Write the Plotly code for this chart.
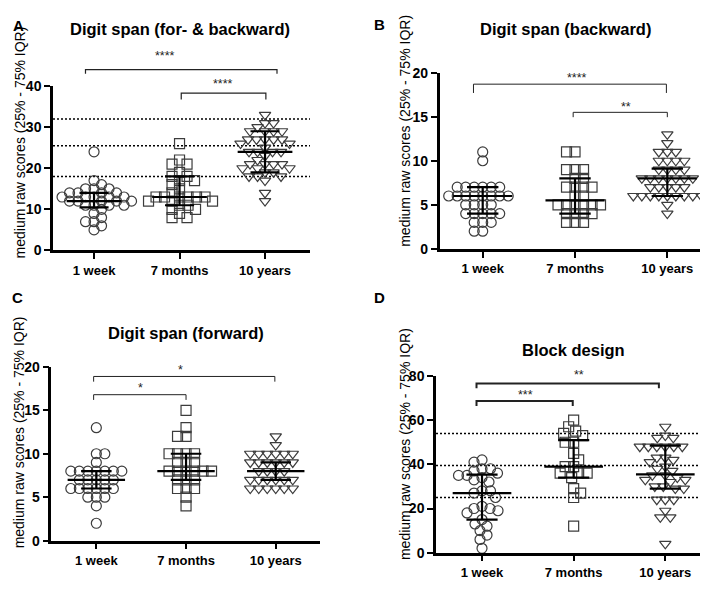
import plotly.graph_objects as go

W, H = 708, 589
categories = ["1 week", "7 months", "10 years"]

# ---------------- data ----------------
A_week = [24, 17, 16, 15, 15, 15, 14, 14, 14, 14, 13, 13, 13, 13, 13, 12, 12, 12, 12, 12,
          11, 11, 11, 11, 10, 9, 8, 7, 7, 6, 5]
A_month = [26, 22, 21, 21, 19, 18, 18, 17, 17, 16, 15, 14, 13, 13, 13, 13, 13, 13, 12, 12,
           12, 11, 11, 10, 10, 9, 8, 8]
A_year = [33, 31, 31, 30, 29, 29, 29, 29, 27, 27, 27, 27, 27, 26, 26, 25, 24, 24, 24, 24,
          23, 22, 21, 21, 21, 21, 20, 20, 20, 19, 19, 18, 18, 18, 17, 14, 12]
A_median = [12, 13, 24]
A_q1 = [10.5, 11, 19]
A_q3 = [14, 18, 29]
A_reflines = [18, 25.5, 32]

B_week = [11, 10, 7, 7, 7, 7, 7, 7, 6, 6, 6, 6, 6, 6, 6, 6, 5, 5, 5, 5, 4, 4, 4, 4, 4,
          3, 3, 3, 2, 2]
B_month = [11, 11, 9, 9, 9, 8, 8, 7, 7, 7, 7, 6, 6, 5, 5, 5, 5, 5, 5, 4, 4, 4, 4, 3, 3, 3]
B_year = [13, 12, 11, 11, 11, 10, 10, 10, 10, 9, 9, 9, 9, 8, 8, 8, 8, 8, 8, 8, 7, 7, 7, 7,
          7, 6, 6, 6, 6, 6, 6, 6, 6, 6, 6, 5, 4]
B_median = [6, 5.5, 8]
B_q1 = [4, 4, 6]
B_q3 = [7, 8, 9.1]

C_week = [13, 10, 10, 9, 8, 8, 8, 8, 8, 8, 8, 7, 7, 7, 7, 7, 6, 6, 6, 6, 6, 6, 5, 5, 5, 4, 2]
C_month = [15, 13, 12, 12, 10, 10, 10, 10, 9, 9, 9, 8, 8, 8, 8, 8, 8, 7, 7, 7, 6, 6, 6, 5, 4]
C_year = [12, 11, 10, 10, 10, 10, 10, 10, 9, 9, 9, 9, 9, 9, 8, 8, 8, 8, 7, 7, 7, 7, 7, 7,
          6, 6, 6, 6, 6, 6]
C_median = [7, 8, 8]
C_q1 = [6, 7, 7]
C_q3 = [8, 10, 9]

D_week = [42, 41, 38, 38, 37, 36, 35, 35, 34, 33, 32, 28, 28, 27, 25, 21, 20, 20, 19, 18,
          15, 13, 12, 10, 8, 6, 2]
D_month = [60, 57, 55, 54, 53, 50, 50, 45, 42, 39, 39, 36, 36, 36, 34, 29, 27, 25, 12]
D_year = [57, 53, 52, 52, 48, 48, 48, 48, 48, 48, 43, 43, 42, 41, 39, 38, 37, 35, 35, 34,
          33, 33, 32, 30, 30, 29, 29, 24, 24, 24, 19, 16, 16, 4]
D_median = [27, 39, 35.5]
D_q1 = [15, 34, 29]
D_q3 = [35.3, 51, 48.5]
D_reflines = [25, 39.5, 54]

A_ticks = [0, 10, 20, 30, 40]
B_ticks = [0, 5, 10, 15, 20]
C_ticks = [0, 5, 10, 15, 20]
D_ticks = [0, 20, 40, 60, 80]

A_comparisons = ["****", "****"]
B_comparisons = ["****", "**"]
C_comparisons = ["*", "*"]
D_comparisons = ["**", "***"]

# ---------------- layout config ----------------
panels = [
    dict(letter="A", title="Digit span (for- & backward)", xa="x", ya="y",
         groups=[A_week, A_month, A_year], med=A_median, q1=A_q1, q3=A_q3,
         ref=A_reflines, ticks=A_ticks, comp=A_comparisons,
         xpx=(45, 302), ypx=(72, 241), xr=(-0.48, 2.526),
         title_pos=(172, 13), letter_pos=(10, 10), ytitle_pos=(12, 130),
         brackets=[(-0.1, 2.14, 44.0, 43.0, 0.83, 47.3, 1.2),
                   (1.02, 2.01, 38.3, 36.7, 1.51, 40.4, 1.2)]),
    dict(letter="B", title="Digit span (backward)", xa="x2", ya="y2",
         groups=[B_week, B_month, B_year], med=B_median, q1=B_q1, q3=B_q3,
         ref=[], ticks=B_ticks, comp=B_comparisons,
         xpx=(431.7, 704), ypx=(58.3, 239.3), xr=(-0.466, 2.484),
         title_pos=(557, 13), letter_pos=(371, 9), ytitle_pos=(397, 118),
         brackets=[(-0.1, 1.99, 18.7, 17.7, 1.02, 19.4, 1.0),
                   (0.98, 2.0, 15.5, 14.95, 1.55, 16.1, 1.0)]),
    dict(letter="C", title="Digit span (forward)", xa="x3", ya="y3",
         groups=[C_week, C_month, C_year], med=C_median, q1=C_q1, q3=C_q3,
         ref=[], ticks=C_ticks, comp=C_comparisons,
         xpx=(43.3, 311.7), ypx=(360.7, 539.3), xr=(-0.502, 2.49),
         title_pos=(178, 326), letter_pos=(9, 289), ytitle_pos=(11, 428),
         brackets=[(-0.03, 1.99, 18.9, 18.3, 0.94, 19.7, 1.0),
                   (-0.03, 1.0, 16.8, 16.2, 0.49, 17.6, 1.0)]),
    dict(letter="D", title="Block design", xa="x4", ya="y4",
         groups=[D_week, D_month, D_year], med=D_median, q1=D_q1, q3=D_q3,
         ref=D_reflines, ticks=D_ticks, comp=D_comparisons,
         xpx=(428, 702.3), ypx=(370, 551.7), xr=(-0.502, 2.491),
         title_pos=(565, 343), letter_pos=(371, 289), ytitle_pos=(397, 440),
         brackets=[(-0.06, 1.93, 76.6, 74.4, 1.06, 80.3, 2.0),
                   (-0.06, 0.99, 68.7, 66.4, 0.47, 71.5, 2.0)]),
]

symbols = ["circle-open", "square-open", "triangle-down-open"]
MCOL = "#3c3c3c"
FONT = "Liberation Sans, Arial, sans-serif"
MSIZE = 10


def swarm(values, px_x, px_y, dist):
    """Beeswarm: horizontal offsets (in category units) so markers don't overlap."""
    n = len(values)
    order = sorted(range(n), key=lambda i: -values[i])
    placed = []
    offs = [0.0] * n
    for cnt, i in enumerate(order):
        y = values[i] * px_y
        best = None
        k = 0
        while best is None:
            if k == 0:
                cands = [0.0]
            else:
                s = k * 0.5
                cands = [s, -s] if cnt % 2 == 0 else [-s, s]
            for c in cands:
                if all((c - px) ** 2 + (y - py) ** 2 >= dist ** 2 for px, py in placed):
                    best = c
                    break
            k += 1
        placed.append((best, y))
        offs[i] = best / px_x
    return offs


fig = go.Figure()
layout = dict(width=W, height=H, margin=dict(l=0, r=0, t=0, b=0),
              paper_bgcolor="white", plot_bgcolor="white", showlegend=False,
              font=dict(family=FONT, color="black"))
annotations = []
shapes = []

for p in panels:
    xa, ya = p["xa"], p["ya"]
    xkey = "xaxis" + xa[1:]
    ykey = "yaxis" + ya[1:]
    ymax = p["ticks"][-1]
    xd = [p["xpx"][0] / W, p["xpx"][1] / W]
    yd = [1 - p["ypx"][1] / H, 1 - p["ypx"][0] / H]
    px_x = (p["xpx"][1] - p["xpx"][0]) / (p["xr"][1] - p["xr"][0])
    px_y = (p["ypx"][1] - p["ypx"][0]) / ymax

    layout[xkey] = dict(domain=xd, anchor=ya, range=list(p["xr"]), tickvals=[0, 1, 2],
                        ticktext=categories,
                        showline=True, linecolor="black", linewidth=2.5,
                        ticks="outside", ticklen=6, tickwidth=2, tickcolor="black",
                        showgrid=False, zeroline=False,
                        tickfont=dict(family=FONT, size=13, color="black", weight="bold"))
    layout[ykey] = dict(domain=yd, anchor=xa, range=[0, ymax], tickvals=p["ticks"],
                        ticktext=[str(t) for t in p["ticks"]],
                        showline=True, linecolor="black", linewidth=2.5,
                        ticks="outside", ticklen=6, tickwidth=2, tickcolor="black",
                        showgrid=False, zeroline=False,
                        tickfont=dict(family=FONT, size=14, color="black", weight="bold"))

    for r in p["ref"]:
        shapes.append(dict(type="line", xref=xa + " domain", yref=ya, x0=0, x1=1, y0=r, y1=r,
                           line=dict(color="black", width=1.5, dash="2px,2px"), layer="below"))

    for g, vals in enumerate(p["groups"]):
        offs = swarm(vals, px_x, px_y, 8.2)
        fig.add_trace(go.Scatter(x=[g + o for o in offs], y=vals, xaxis=xa, yaxis=ya,
                                 mode="markers", cliponaxis=False,
                                 marker=dict(symbol=symbols[g], size=MSIZE, color=MCOL,
                                             line=dict(width=1.2, color=MCOL))))

    lx, ly = [], []
    for g in range(3):
        m, a, b = p["med"][g], p["q1"][g], p["q3"][g]
        lx += [g - 0.32, g + 0.32, None, g - 0.17, g + 0.17, None,
               g - 0.17, g + 0.17, None, g, g, None]
        ly += [m, m, None, a, a, None, b, b, None, a, b, None]
    fig.add_trace(go.Scatter(x=lx, y=ly, xaxis=xa, yaxis=ya, mode="lines",
                             line=dict(color="black", width=2.2), cliponaxis=False,
                             hoverinfo="skip"))

    for (x0, x1, yl, yt, lx_, lyy, lw), lab in zip(p["brackets"], p["comp"]):
        shapes.append(dict(type="path", xref=xa, yref=ya + " domain",
                           path=f"M {x0},{yt / ymax} L {x0},{yl / ymax} L {x1},{yl / ymax} L {x1},{yt / ymax}",
                           line=dict(color="#222", width=lw)))
        annotations.append(dict(text=lab, xref=xa, yref=ya + " domain", x=lx_, y=lyy / ymax,
                                showarrow=False, font=dict(size=12.5, color="#222", family=FONT),
                                xanchor="center", yanchor="middle"))

    annotations.append(dict(text="<b>" + p["title"] + "</b>", xref="paper", yref="paper",
                            x=p["title_pos"][0] / W, y=1 - p["title_pos"][1] / H,
                            showarrow=False, font=dict(size=16.5, family=FONT),
                            xanchor="center", yanchor="middle"))
    annotations.append(dict(text="<b>" + p["letter"] + "</b>", xref="paper", yref="paper",
                            x=p["letter_pos"][0] / W, y=1 - p["letter_pos"][1] / H,
                            showarrow=False, font=dict(size=15, family=FONT),
                            xanchor="center", yanchor="middle"))
    annotations.append(dict(text="medium raw scores (25% - 75% IQR)", xref="paper", yref="paper",
                            x=p["ytitle_pos"][0] / W, y=1 - p["ytitle_pos"][1] / H,
                            textangle=-90, showarrow=False, font=dict(size=14, family=FONT),
                            xanchor="center", yanchor="middle"))

layout["annotations"] = annotations
layout["shapes"] = shapes
fig.update_layout(**layout)
fig.write_html("out.html")
